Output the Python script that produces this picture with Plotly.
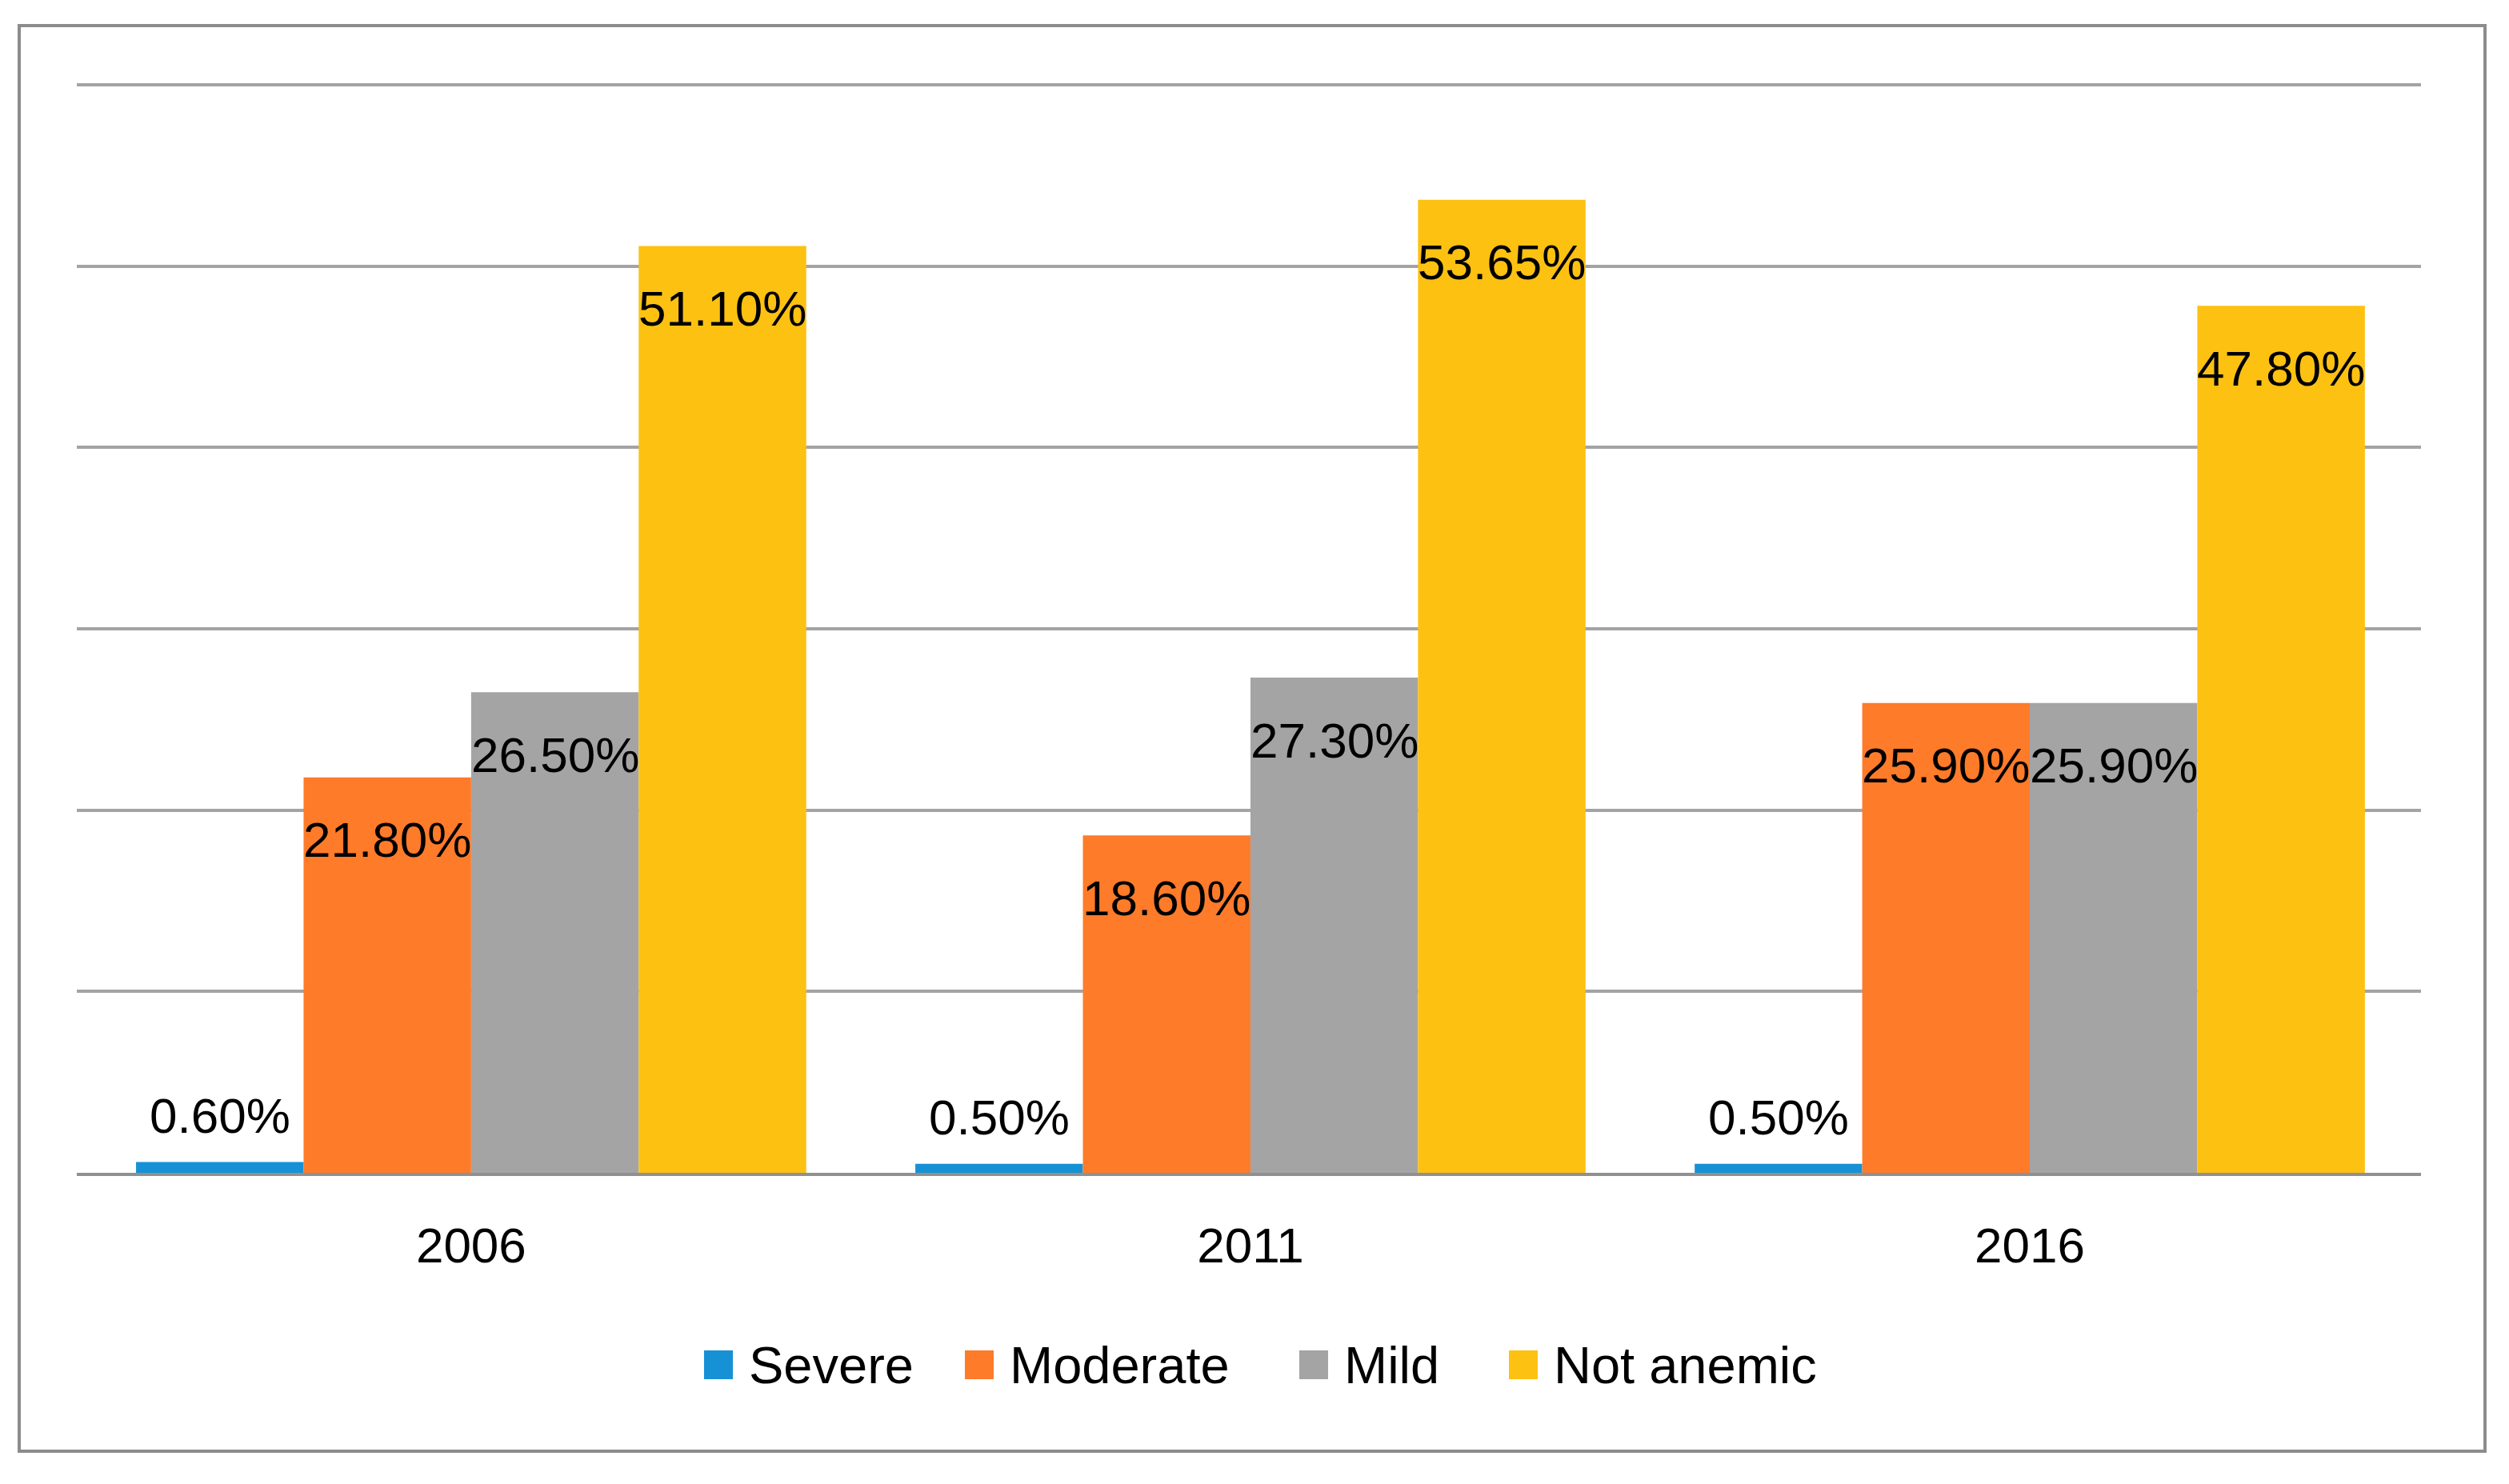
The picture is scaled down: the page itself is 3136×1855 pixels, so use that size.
import plotly.graph_objects as go

years = ["2006", "2011", "2016"]
series_names = ["Severe", "Moderate", "Mild", "Not anemic"]
severe = [0.60, 0.50, 0.50]
moderate = [21.80, 18.60, 25.90]
mild = [26.50, 27.30, 25.90]
not_anemic = [51.10, 53.65, 47.80]
colors = ["#1791d6", "#fe7b2a", "#a4a4a4", "#fdc112"]

all_series = [severe, moderate, mild, not_anemic]

W, H = 3136, 1855
L, R, T, B = 96, 110, 99, 389
PW, PH = W - L - R, H - T - B
Y_MAX = 60.3
FONT = "Liberation Sans, Arial, sans-serif"


def px_x(p):
    return (p - L) / PW


def px_y(p):
    return (H - B - p) / PH


group_span = 0.86
bw = group_span / len(all_series)
xs = list(range(len(years)))

fig = go.Figure()
annotations = []
for k, (name, vals, col) in enumerate(zip(series_names, all_series, colors)):
    off = -group_span / 2 + k * bw
    fig.add_trace(go.Bar(
        x=xs, y=vals, name=name, width=bw, offset=off,
        marker=dict(color=col, line=dict(width=0)),
        hoverinfo="skip", showlegend=False,
    ))
    for i, v in enumerate(vals):
        cx = xs[i] + off + bw / 2
        ys = 58 if k == 0 else -78
        annotations.append(dict(
            x=cx, y=v, xref="x", yref="y", text=f"{v:.2f}%",
            showarrow=False, yanchor="middle", xanchor="center", yshift=ys,
            font=dict(family=FONT, size=62, color="#000000"),
        ))

# legend (drawn manually to match the large square swatches)
legend_sq_left = [880, 1206, 1624, 1886]
SQ = 36
LEG_Y = 1706
shapes = [dict(
    type="rect", xref="paper", yref="paper",
    x0=px_x(24), x1=px_x(3106), y0=px_y(1814), y1=px_y(32),
    line=dict(color="#8c8c8c", width=4), fillcolor="rgba(0,0,0,0)",
    layer="below",
)]
for name, col, sx in zip(series_names, colors, legend_sq_left):
    shapes.append(dict(
        type="rect", xref="paper", yref="paper",
        x0=px_x(sx), x1=px_x(sx + SQ),
        y0=px_y(LEG_Y + SQ / 2), y1=px_y(LEG_Y - SQ / 2),
        line=dict(width=0), fillcolor=col,
    ))
    annotations.append(dict(
        x=px_x(sx + SQ + 18), y=px_y(LEG_Y), xref="paper", yref="paper",
        text=name, showarrow=False, xanchor="left", yanchor="middle",
        font=dict(family=FONT, size=65, color="#000000"),
    ))

fig.update_layout(
    width=W, height=H,
    margin=dict(l=L, r=R, t=T, b=B),
    paper_bgcolor="white", plot_bgcolor="white",
    barmode="overlay",
    showlegend=False,
    font=dict(family=FONT, size=62, color="#000000"),
    xaxis=dict(
        range=[-0.506, len(years) - 0.498],
        tickvals=xs, ticktext=years,
        showgrid=False, zeroline=False,
        showline=True, linecolor="#909090", linewidth=4,
        ticks="outside", ticklen=34, tickcolor="rgba(0,0,0,0)",
        tickfont=dict(family=FONT, size=62, color="#000000"),
        fixedrange=True,
    ),
    yaxis=dict(
        range=[0, Y_MAX], tickvals=[10, 20, 30, 40, 50, 60],
        showgrid=True, gridcolor="#a3a3a3", gridwidth=4,
        zeroline=False, showticklabels=False, showline=False,
        fixedrange=True,
    ),
    annotations=annotations,
    shapes=shapes,
)

fig.write_html(
    "out.html",
    config={"displayModeBar": False},
    post_script="document.body.style.margin='0';",
)
